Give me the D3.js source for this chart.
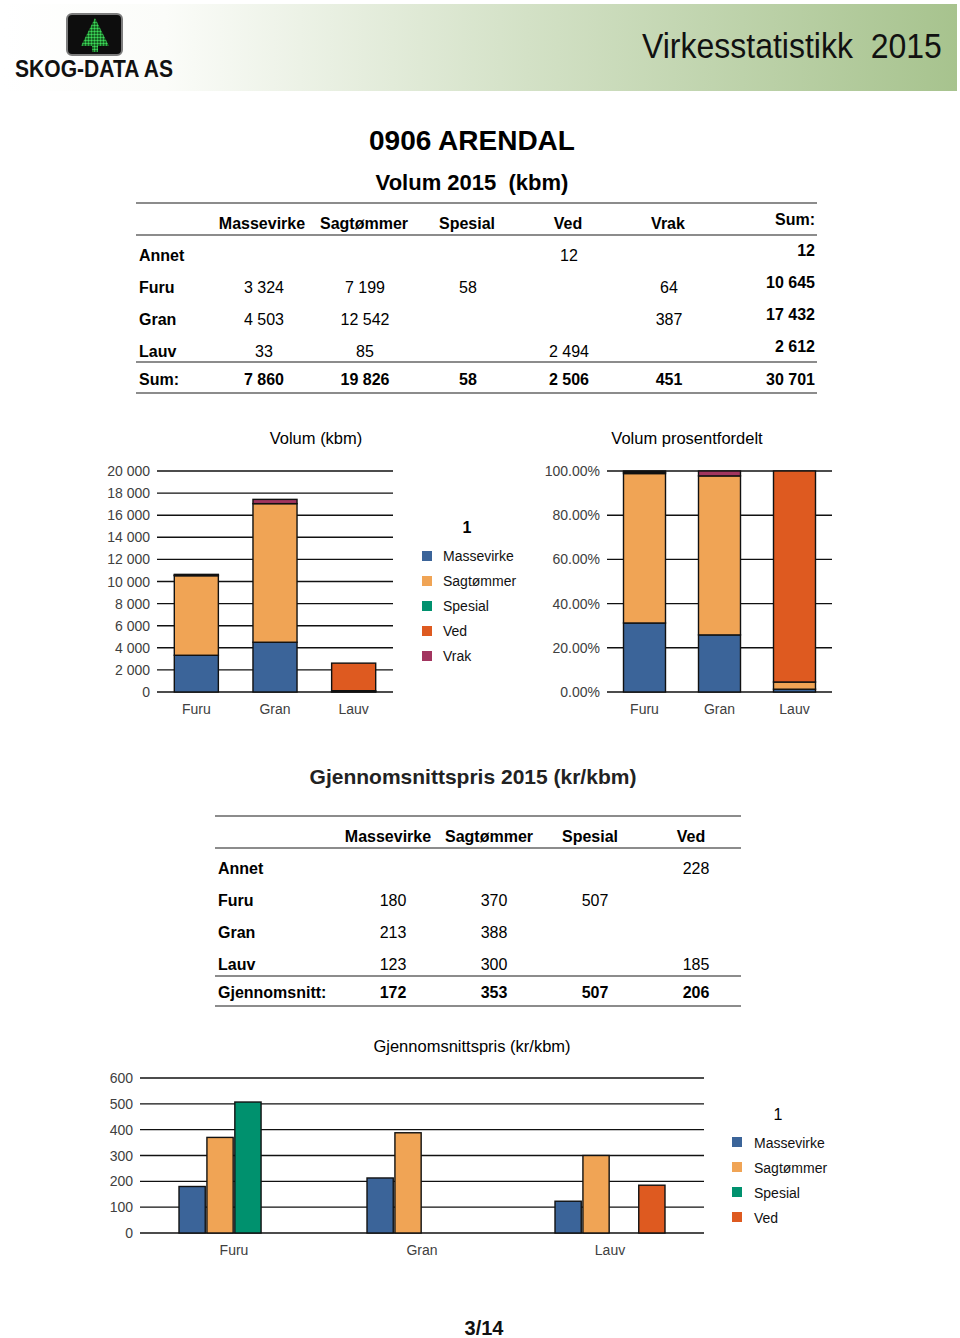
<!DOCTYPE html>
<html><head><meta charset="utf-8">
<script src="https://cdn.jsdelivr.net/npm/d3@7"></script>
<style>
html,body{margin:0;padding:0;background:#fff;}
svg{display:block;font-family:"Liberation Sans",Arial,sans-serif;}
</style></head>
<body>
<svg id="c" width="960" height="1338"></svg>
<script>
// ---------- DATA ----------
const tableRows = ["Annet","Furu","Gran","Lauv"];
const species = ["Furu","Gran","Lauv"];
const volKeys = ["Massevirke","Sagtømmer","Spesial","Ved","Vrak"];
const volMassevirke = [null, 3324, 4503, 33];
const volSagtommer  = [null, 7199, 12542, 85];
const volSpesial    = [null, 58, null, null];
const volVed        = [12, null, null, 2494];
const volVrak       = [null, 64, 387, null];

const priceKeys = ["Massevirke","Sagtømmer","Spesial","Ved"];
const priceMassevirke = [null, 180, 213, 123];
const priceSagtommer  = [null, 370, 388, 300];
const priceSpesial    = [null, 507, null, null];
const priceVed        = [228, null, null, 185];
const priceAverage    = [172, 353, 507, 206];

const volTicks = [0,2000,4000,6000,8000,10000,12000,14000,16000,18000,20000];
const pctTicks = [0,0.2,0.4,0.6,0.8,1.0];
const priceTicks = [0,100,200,300,400,500,600];

const colors = {"Massevirke":"#3b6499","Sagtømmer":"#f0a455","Spesial":"#00916e","Ved":"#de5a20","Vrak":"#a2355f"};

// ---------- HELPERS ----------
const loc = d3.formatLocale({decimal:".", thousands:" ", grouping:[3], currency:["",""]});
const fmt = loc.format(",d");
const fmtV = v => (v==null ? "" : fmt(v));
const svg = d3.select("#c");

// ---------- HEADER ----------
const defs = svg.append("defs");
const grad = defs.append("linearGradient").attr("id","hg").attr("x1","0").attr("x2","1").attr("y1","0").attr("y2","0");
grad.append("stop").attr("offset","0%").attr("stop-color","#ffffff");
grad.append("stop").attr("offset","17%").attr("stop-color","#fbfcf9");
grad.append("stop").attr("offset","55%").attr("stop-color","#d3e1c6");
grad.append("stop").attr("offset","100%").attr("stop-color","#a7c38e");
svg.append("rect").attr("x",3).attr("y",4).attr("width",954).attr("height",87).attr("fill","url(#hg)");

const pat = defs.append("pattern").attr("id","dots").attr("patternUnits","userSpaceOnUse").attr("width",3).attr("height",3);
pat.append("rect").attr("width",3).attr("height",3).attr("fill","#0b3d12");
pat.append("circle").attr("cx",1.5).attr("cy",1.5).attr("r",1.2).attr("fill","#3ddc5a");
svg.append("rect").attr("x",67).attr("y",14).attr("width",55).attr("height",41).attr("rx",5)
  .attr("fill","#0d0d0d").attr("stroke","#7d7d7d").attr("stroke-width",2);
svg.append("path").attr("d","M95,18 L81,46 L109,46 Z").attr("fill","url(#dots)");
svg.append("rect").attr("x",92).attr("y",46).attr("width",6).attr("height",6).attr("fill","url(#dots)");

function fitText(parent, str, x, y, width, size, bold, anchor){
  const g = parent.append("g");
  const t = g.append("text").attr("x",0).attr("y",0).attr("font-size",size)
    .attr("font-weight",bold?"bold":"normal").attr("fill","#111").attr("xml:space","preserve").text(str);
  const w = t.node().getComputedTextLength();
  const sx = width / w;
  const tx = anchor === "end" ? x - width : x;
  g.attr("transform",`translate(${tx},${y}) scale(${sx},1)`);
}
fitText(svg, "SKOG-DATA AS", 15, 77, 158, 23, true, "start");
fitText(svg, "Virkesstatistikk  2015", 942, 58, 300, 35, false, "end");

// ---------- TITLES ----------
svg.append("text").attr("x",472).attr("y",150).attr("text-anchor","middle").attr("font-weight","bold").attr("font-size",28).attr("fill","#000").text("0906 ARENDAL");
svg.append("text").attr("x",472).attr("y",190).attr("text-anchor","middle").attr("font-weight","bold").attr("font-size",22).attr("fill","#000")
  .attr("xml:space","preserve").text("Volum 2015  (kbm)");

// ---------- TABLE 1 ----------
(function(){
  const g = svg.append("g").attr("font-size",16).attr("fill","#000");
  const L = 136, R = 817;
  const hline = (y,c) => g.append("line").attr("x1",L).attr("x2",R).attr("y1",y).attr("y2",y).attr("stroke",c||"#8c8c8c").attr("stroke-width",2);
  hline(203); hline(235); hline(362); hline(393);
  const colX = [263,364,467,568,668];
  const cols = [volMassevirke, volSagtommer, volSpesial, volVed, volVrak];
  volKeys.forEach((k,i)=> g.append("text").attr("x",colX[i]-(i===0?1:0)).attr("y",229).attr("text-anchor","middle").attr("font-weight","bold").text(k));
  g.append("text").attr("x",815).attr("y",225).attr("text-anchor","end").attr("font-weight","bold").text("Sum:");
  const rowY = [261,293,325,357];
  tableRows.forEach((r,ri)=>{
    g.append("text").attr("x",139).attr("y",rowY[ri]).attr("font-weight","bold").text(r);
    let s = 0;
    cols.forEach((c,ci)=>{ if(c[ri]!=null){ s += c[ri];
      g.append("text").attr("x",colX[ci]+1).attr("y",rowY[ri]).attr("text-anchor","middle").text(fmtV(c[ri])); }});
    g.append("text").attr("x",815).attr("y",rowY[ri]-5).attr("text-anchor","end").attr("font-weight","bold").text(fmt(s));
  });
  g.append("text").attr("x",139).attr("y",385).attr("font-weight","bold").text("Sum:");
  let tot = 0;
  cols.forEach((c,ci)=>{ const s = d3.sum(c.map(v=>v||0)); tot+=s;
    g.append("text").attr("x",colX[ci]+1).attr("y",385).attr("text-anchor","middle").attr("font-weight","bold").text(fmt(s)); });
  g.append("text").attr("x",815).attr("y",385).attr("text-anchor","end").attr("font-weight","bold").text(fmt(tot));
})();

// ---------- STACK DATA ----------
const volCols = {"Massevirke":volMassevirke,"Sagtømmer":volSagtommer,"Spesial":volSpesial,"Ved":volVed,"Vrak":volVrak};
const stackRows = species.map(sp=>{
  const ri = tableRows.indexOf(sp); const o = {sp};
  volKeys.forEach(k=> o[k] = volCols[k][ri] || 0); return o;
});

function gridAxis(g, y, ticks, x0, x1, labelX, fmtF){
  ticks.forEach(t=>{
    g.append("line").attr("x1",x0).attr("x2",x1).attr("y1",y(t)).attr("y2",y(t)).attr("stroke","#111").attr("stroke-width",1.4);
    g.append("text").attr("x",labelX).attr("y",y(t)+5).attr("text-anchor","end").attr("font-size",14).attr("fill","#404040").text(fmtF(t));
  });
}

// ---------- CHART 1 : volume stacked ----------
(function(){
  const g = svg.append("g");
  const x = d3.scaleBand().domain(species).range([157,393]).paddingInner(0.44).paddingOuter(0.22);
  const y = d3.scaleLinear().domain([0,20000]).range([692,471]);
  g.append("text").attr("x",316).attr("y",444).attr("text-anchor","middle").attr("font-size",16.5).attr("fill","#000").text("Volum (kbm)");
  gridAxis(g, y, volTicks, 157, 393, 150, v=>fmt(v));
  const st = d3.stack().keys(volKeys)(stackRows);
  st.forEach(layer=>{
    g.selectAll(null).data(layer.filter(d=>d[1]-d[0]>0)).join("rect")
      .attr("x",d=>x(d.data.sp)).attr("width",x.bandwidth())
      .attr("y",d=>y(d[1])).attr("height",d=>y(d[0])-y(d[1]))
      .attr("fill",colors[layer.key]).attr("stroke","#111").attr("stroke-width",1.4);
  });
  species.forEach(s=> g.append("text").attr("x",x(s)+x.bandwidth()/2).attr("y",714).attr("text-anchor","middle").attr("font-size",14).attr("fill","#404040").text(s));
})();

// ---------- LEGEND 1 ----------
(function(){
  const g = svg.append("g");
  g.append("text").attr("x",467).attr("y",533).attr("text-anchor","middle").attr("font-weight","bold").attr("font-size",16).attr("fill","#000").text("1");
  volKeys.forEach((k,i)=>{
    g.append("rect").attr("x",422).attr("y",551+i*25).attr("width",10).attr("height",10).attr("fill",colors[k]);
    g.append("text").attr("x",443).attr("y",561+i*25).attr("font-size",14).attr("fill","#111").text(k);
  });
})();

// ---------- CHART 2 : percent stacked ----------
(function(){
  const g = svg.append("g");
  const x = d3.scaleBand().domain(species).range([607,832]).paddingInner(0.44).paddingOuter(0.22);
  const y = d3.scaleLinear().domain([0,1]).range([692,471]);
  g.append("text").attr("x",687).attr("y",444).attr("text-anchor","middle").attr("font-size",16.5).attr("fill","#000").text("Volum prosentfordelt");
  gridAxis(g, y, pctTicks, 607, 832, 600, d3.format(".2%"));
  const st = d3.stack().keys(volKeys).offset(d3.stackOffsetExpand)(stackRows);
  st.forEach(layer=>{
    g.selectAll(null).data(layer.filter(d=>d[1]-d[0]>0)).join("rect")
      .attr("x",d=>x(d.data.sp)).attr("width",x.bandwidth())
      .attr("y",d=>y(d[1])).attr("height",d=>y(d[0])-y(d[1]))
      .attr("fill",colors[layer.key]).attr("stroke","#111").attr("stroke-width",1.4);
  });
  species.forEach(s=> g.append("text").attr("x",x(s)+x.bandwidth()/2).attr("y",714).attr("text-anchor","middle").attr("font-size",14).attr("fill","#404040").text(s));
})();

// ---------- SECTION 2 ----------
svg.append("text").attr("x",473).attr("y",784).attr("text-anchor","middle").attr("font-weight","bold").attr("font-size",21).attr("fill","#222").text("Gjennomsnittspris 2015 (kr/kbm)");

(function(){
  const g = svg.append("g").attr("font-size",16).attr("fill","#000");
  const L = 215, R = 741;
  const hline = y => g.append("line").attr("x1",L).attr("x2",R).attr("y1",y).attr("y2",y).attr("stroke","#8c8c8c").attr("stroke-width",2);
  hline(816); hline(848); hline(976); hline(1006);
  const colX = [388,489,590,691];
  const valX = [393,494,595,696];
  const cols = [priceMassevirke, priceSagtommer, priceSpesial, priceVed];
  priceKeys.forEach((k,i)=> g.append("text").attr("x",colX[i]).attr("y",842).attr("text-anchor","middle").attr("font-weight","bold").text(k));
  const rowY = [874,906,938,970];
  tableRows.forEach((r,ri)=>{
    g.append("text").attr("x",218).attr("y",rowY[ri]).attr("font-weight","bold").text(r);
    cols.forEach((c,ci)=>{ if(c[ri]!=null)
      g.append("text").attr("x",valX[ci]).attr("y",rowY[ri]).attr("text-anchor","middle").text(fmtV(c[ri])); });
  });
  g.append("text").attr("x",218).attr("y",998).attr("font-weight","bold").text("Gjennomsnitt:");
  priceAverage.forEach((v,ci)=> g.append("text").attr("x",valX[ci]).attr("y",998).attr("text-anchor","middle").attr("font-weight","bold").text(fmtV(v)));
})();

// ---------- CHART 3 : grouped price ----------
(function(){
  const g = svg.append("g");
  const x0 = d3.scaleBand().domain(species).range([140,704]).paddingInner(0.415).paddingOuter(0.2075);
  const x1 = d3.scaleBand().domain(priceKeys).range([0,x0.bandwidth()]).paddingInner(0.06);
  const y = d3.scaleLinear().domain([0,600]).range([1233,1078]);
  g.append("text").attr("x",472).attr("y",1052).attr("text-anchor","middle").attr("font-size",16.5).attr("fill","#000").text("Gjennomsnittspris (kr/kbm)");
  gridAxis(g, y, priceTicks, 140, 704, 133, d3.format("d"));
  const pcols = {"Massevirke":priceMassevirke,"Sagtømmer":priceSagtommer,"Spesial":priceSpesial,"Ved":priceVed};
  const bars = [];
  species.forEach(sp=>{ const ri = tableRows.indexOf(sp);
    priceKeys.forEach(k=>{ const v = pcols[k][ri]; if(v!=null) bars.push({sp,k,v}); }); });
  g.selectAll(null).data(bars).join("rect")
    .attr("x",d=>x0(d.sp)+x1(d.k)).attr("width",x1.bandwidth())
    .attr("y",d=>y(d.v)).attr("height",d=>y(0)-y(d.v))
    .attr("fill",d=>colors[d.k]).attr("stroke","#111").attr("stroke-width",1.4);
  species.forEach(s=> g.append("text").attr("x",x0(s)+x0.bandwidth()/2).attr("y",1255).attr("text-anchor","middle").attr("font-size",14).attr("fill","#404040").text(s));
})();

// ---------- LEGEND 2 ----------
(function(){
  const g = svg.append("g");
  g.append("text").attr("x",778).attr("y",1120).attr("text-anchor","middle").attr("font-size",16).attr("fill","#000").text("1");
  priceKeys.forEach((k,i)=>{
    g.append("rect").attr("x",732).attr("y",1137+i*25).attr("width",10).attr("height",10).attr("fill",colors[k]);
    g.append("text").attr("x",754).attr("y",1148+i*25).attr("font-size",14).attr("fill","#111").text(k);
  });
})();

// ---------- FOOTER ----------
svg.append("text").attr("x",484).attr("y",1335).attr("text-anchor","middle").attr("font-weight","bold").attr("font-size",20).attr("fill","#111").text("3/14");
</script>
</body></html>
